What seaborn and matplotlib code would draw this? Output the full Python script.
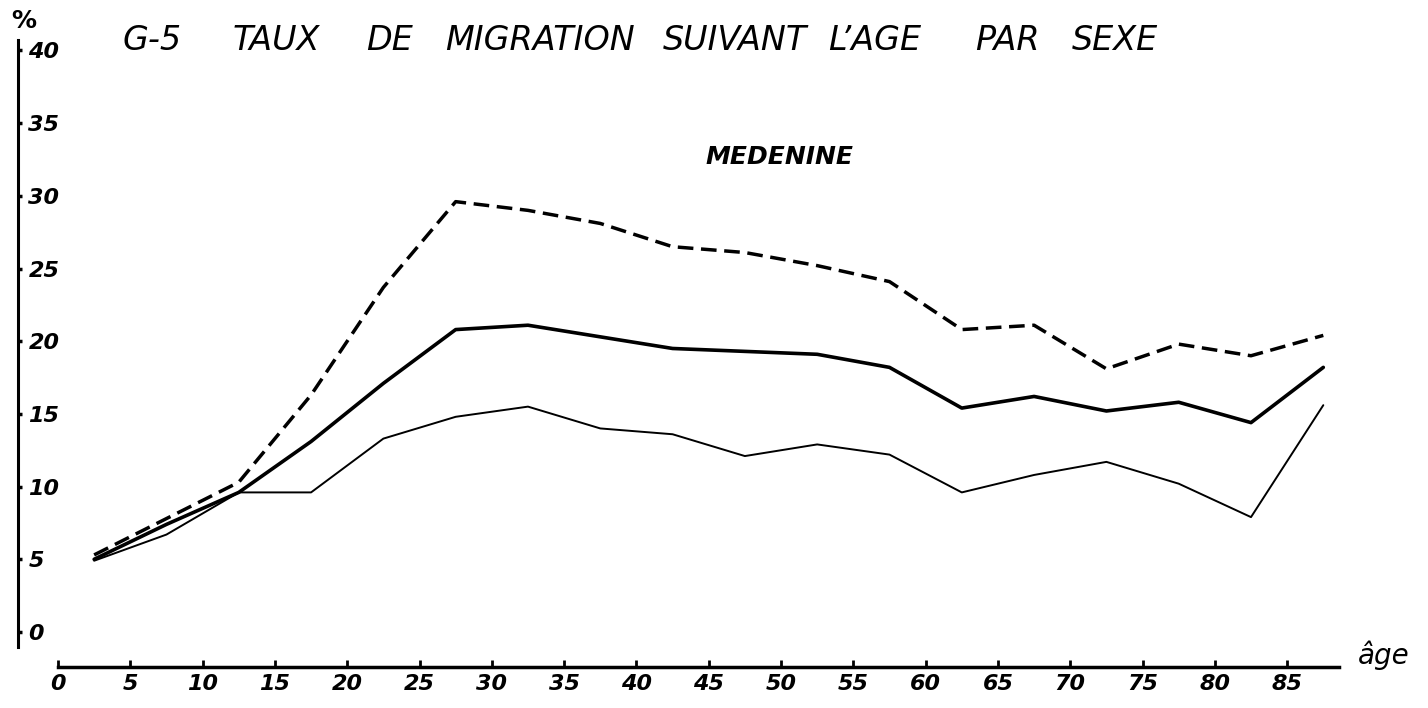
import matplotlib
matplotlib.use("Agg")
import matplotlib.pyplot as plt
import seaborn as sns
import pandas as pd

# Migration rate by age group (%), Medenine
ages = [2.5, 7.5, 12.5, 17.5, 22.5, 27.5, 32.5, 37.5, 42.5,
        47.5, 52.5, 57.5, 62.5, 67.5, 72.5, 77.5, 82.5, 87.5]
male_rate = [5.3, 7.8, 10.3, 16.3, 23.7, 29.6, 29.0, 28.1, 26.5,
             26.1, 25.2, 24.1, 20.8, 21.1, 18.1, 19.8, 19.0, 20.4]
total_rate = [5.0, 7.4, 9.6, 13.1, 17.1, 20.8, 21.1, 20.3, 19.5,
              19.3, 19.1, 18.2, 15.4, 16.2, 15.2, 15.8, 14.4, 18.2]
female_rate = [4.9, 6.7, 9.6, 9.6, 13.3, 14.8, 15.5, 14.0, 13.6,
               12.1, 12.9, 12.2, 9.6, 10.8, 11.7, 10.2, 7.9, 15.6]
x_ticks = list(range(0, 90, 5))
y_ticks = list(range(0, 45, 5))
title_words = ["G-5", "TAUX", "DE", "MIGRATION", "SUIVANT", "L’AGE", "PAR", "SEXE"]

df = pd.DataFrame({"age": ages, "hommes": male_rate,
                   "ensemble": total_rate, "femmes": female_rate})

sns.set_style("white")
plt.rcParams["font.family"] = ["DejaVu Sans"]
plt.rcParams["text.color"] = "black"
plt.rcParams["xtick.color"] = "black"
plt.rcParams["ytick.color"] = "black"

fig = plt.figure(figsize=(14.28, 7.08), dpi=100)
ax = fig.add_axes([0, 0, 1, 1])
ax.patch.set_alpha(0)

sns.lineplot(data=df, x="age", y="hommes", ax=ax, color="black",
             linewidth=2.5, linestyle=(0, (4.5, 2.2)))
sns.lineplot(data=df, x="age", y="ensemble", ax=ax, color="black",
             linewidth=2.6)
sns.lineplot(data=df, x="age", y="femmes", ax=ax, color="black",
             linewidth=1.4)

ax.set_xlim(-4.011, 94.74)
ax.set_ylim(-5.23, 43.47)
ax.set_xlabel("")
ax.set_ylabel("")

# axes drawn like the hand-drawn original
for s in ["top", "right"]:
    ax.spines[s].set_visible(False)
ax.spines["left"].set_position(("data", -2.77))
ax.spines["left"].set_bounds(-1.0, 40.7)
ax.spines["left"].set_linewidth(2.2)
ax.spines["bottom"].set_position(("data", -2.4))
ax.spines["bottom"].set_bounds(0, 88.6)
ax.spines["bottom"].set_linewidth(2.5)
for s in ["left", "bottom"]:
    ax.spines[s].set_color("black")

ax.set_xticks(x_ticks)
ax.set_xticklabels([str(t) for t in x_ticks], fontsize=16,
                   fontstyle="italic", fontweight="bold")
ax.set_yticks(y_ticks)
ax.set_yticklabels([str(t) for t in y_ticks], fontsize=16,
                   fontstyle="italic", fontweight="bold")
ax.tick_params(axis="x", bottom=True, direction="in", length=5, width=2, pad=5)
ax.tick_params(axis="y", left=True, direction="in", length=3, width=2.5, pad=-7.5)
for lab in ax.get_yticklabels():
    lab.set_horizontalalignment("left")

# title, placed word by word
title_x = [123, 233, 366, 445, 663, 828, 975, 1072]
for w, px in zip(title_words, title_x):
    fig.text(px / 1428, 1 - 41 / 708, w, fontsize=24, fontstyle="italic",
             ha="left", va="center")

fig.text(705 / 1428, 1 - 157 / 708, "MEDENINE", fontsize=18,
         fontstyle="italic", fontweight="bold", ha="left", va="center")
fig.text(24 / 1428, 1 - 21 / 708, "%", fontsize=18, fontweight="bold",
         ha="center", va="center")
fig.text(1358 / 1428, 1 - 655 / 708, "âge", fontsize=20,
         fontstyle="italic", ha="left", va="center")

fig.savefig("out.png", dpi=100, facecolor="white")
